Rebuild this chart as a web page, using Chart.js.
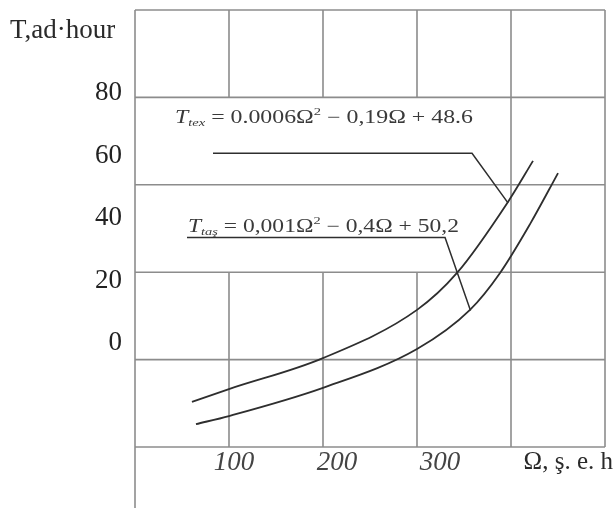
<!DOCTYPE html>
<html>
<head>
<meta charset="utf-8">
<script src="https://cdn.jsdelivr.net/npm/chart.js@4"></script>
<style>
  html, body { margin: 0; padding: 0; background: #fff; }
  #wrap { width: 614px; height: 508px; position: relative; }
</style>
</head>
<body>
<div id="wrap"><canvas id="c"></canvas></div>
<script>
// ---- data ----
const xTickValues = [100, 200, 300];
const yTickValues = [0, 20, 40, 60, 80];
const gridCols = [0, 1, 2, 3, 4, 5];
const gridRows = [0, 1, 2, 3, 4, 5];
const gridGapCols = [1, 2, 3];
const gridGapRows = [2, 4];

const omegaTex = [59.2, 95.1, 186.4, 277.7, 316.5, 366.0, 390.3];
const tTex     = [-18.7, -14.6, -4.7, 10.7, 22.5, 45.2, 58.3];

const omegaTas = [63.1, 95.1, 186.4, 277.7, 329.1, 358.3, 387.4, 414.6];
const tTas     = [-25.8, -23.2, -14.2, -1.8, 10.7, 22.5, 38.1, 54.4];

const leaderTexOmega = [79.6, 331.1, 366.0];
const leaderTexT     = [60.7, 60.7, 44.9];
const leaderTasOmega = [54.4, 304.9, 329.6];
const leaderTasT     = [33.8, 33.8, 10.5];

const formulaLabels = [
  [{t:'T', it:true}, {t:'tex', it:true, sub:true}, {t:' = 0.0006Ω'}, {t:'2', sup:true}, {t:' − 0,19Ω + 48.6'}],
  [{t:'T', it:true}, {t:'taş', it:true, sub:true}, {t:' = 0,001Ω'}, {t:'2', sup:true}, {t:' − 0,4Ω + 50,2'}]
];
const formulaOmega = [42.7, 55.3];
const formulaT     = [72.0, 37.2];
const formulaWidth = [298, 271];

const yTitle = 'T,ad·hour';
const xTitle = 'Ω, ş. e. h';

// ---- helpers ----
const pts = (xs, ys) => xs.map((x, i) => ({x: x, y: ys[i]}));
const SERIF = '"Liberation Serif", "DejaVu Serif", serif';

const gridPlugin = {
  id: 'gridPlugin',
  beforeDatasetsDraw(chart) {
    const ctx = chart.ctx, xg = chart.scales.xg, yg = chart.scales.yg;
    ctx.save();
    ctx.strokeStyle = '#8c8c8c';
    ctx.lineWidth = 1.6;
    gridRows.forEach(r => {
      const y = yg.getPixelForValue(r);
      ctx.beginPath();
      ctx.moveTo(xg.getPixelForValue(gridCols[0]), y);
      ctx.lineTo(xg.getPixelForValue(gridCols[gridCols.length - 1]), y);
      ctx.stroke();
    });
    gridCols.forEach(c => {
      const x = xg.getPixelForValue(c);
      const yTop = yg.getPixelForValue(gridRows[gridRows.length - 1]);
      const yBot = c === 0 ? chart.height : yg.getPixelForValue(gridRows[0]);
      ctx.beginPath();
      if (gridGapCols.includes(c)) {
        ctx.moveTo(x, yTop); ctx.lineTo(x, yg.getPixelForValue(gridGapRows[1]));
        ctx.moveTo(x, yg.getPixelForValue(gridGapRows[0])); ctx.lineTo(x, yBot);
      } else {
        ctx.moveTo(x, yTop); ctx.lineTo(x, yBot);
      }
      ctx.stroke();
    });
    ctx.restore();
  },
  afterDraw(chart) {
    const ctx = chart.ctx, xs = chart.scales.x, ys = chart.scales.y;
    const area = chart.chartArea;
    ctx.save();
    ctx.fillStyle = '#2a2a2a';
    ctx.textBaseline = 'middle';
    ctx.textAlign = 'left';
    ctx.font = '27px ' + SERIF;
    ctx.fillText(yTitle, 10, area.top + 21);
    ctx.font = '25px ' + SERIF;
    const w = ctx.measureText(xTitle).width;
    ctx.fillText(xTitle, area.right + 8 - w, area.bottom + 15);

    ctx.fillStyle = '#3a3a3a';
    formulaLabels.forEach((segs, i) => {
      const base = 18;
      const fontFor = s => (s.it ? 'italic ' : '') + (s.sub || s.sup ? Math.round(base * 0.62) : base) + 'px ' + SERIF;
      let total = 0;
      segs.forEach(s => { ctx.font = fontFor(s); total += ctx.measureText(s.t).width; });
      const sx = formulaWidth[i] / total;
      const x0 = xs.getPixelForValue(formulaOmega[i]);
      const y0 = ys.getPixelForValue(formulaT[i]);
      ctx.save();
      ctx.translate(x0, y0);
      ctx.scale(sx, 1);
      ctx.textBaseline = 'middle';
      let cx = 0;
      segs.forEach(s => {
        ctx.font = fontFor(s);
        const dy = s.sub ? 5 : (s.sup ? -6 : 0);
        ctx.fillText(s.t, cx, dy);
        cx += ctx.measureText(s.t).width;
      });
      ctx.restore();
    });
    ctx.restore();
  }
};

const lineStyle = {
  borderColor: '#2e2e2e',
  borderWidth: 1.8,
  pointRadius: 0,
  fill: false,
  xAxisID: 'x',
  yAxisID: 'y'
};

new Chart(document.getElementById('c'), {
  type: 'line',
  data: {
    datasets: [
      Object.assign({label: 'T tex', data: pts(omegaTex, tTex), cubicInterpolationMode: 'monotone'}, lineStyle),
      Object.assign({label: 'T taş', data: pts(omegaTas, tTas), cubicInterpolationMode: 'monotone'}, lineStyle),
      Object.assign({label: 'leader tex', data: pts(leaderTexOmega, leaderTexT), tension: 0}, lineStyle, {borderWidth: 1.5}),
      Object.assign({label: 'leader taş', data: pts(leaderTasOmega, leaderTasT), tension: 0}, lineStyle, {borderWidth: 1.5})
    ]
  },
  options: {
    responsive: true,
    maintainAspectRatio: false,
    animation: false,
    events: [],
    layout: { padding: { top: 10, right: 9, left: 0, bottom: 0 } },
    plugins: { legend: { display: false }, tooltip: { enabled: false } },
    scales: {
      x: {
        type: 'linear', position: 'bottom', min: 3.9, max: 460.2,
        grid: { display: false, drawTicks: false },
        border: { display: false },
        ticks: { color: '#444', padding: 0, font: { family: SERIF, size: 27, style: 'italic' }, maxRotation: 0 },
        afterBuildTicks: s => { s.ticks = xTickValues.map(v => ({value: v})); },
        afterFit: s => { s.height = 61; s.paddingLeft = 0; s.paddingRight = 0; }
      },
      y: {
        type: 'linear', position: 'left', min: -33.1, max: 106.5,
        grid: { display: false, drawTicks: false },
        border: { display: false },
        ticks: { color: '#222', padding: 13, font: { family: SERIF, size: 27 } },
        afterBuildTicks: s => { s.ticks = yTickValues.map(v => ({value: v})); },
        afterFit: s => { s.width = 135; s.paddingTop = 0; s.paddingBottom = 0; }
      },
      xg: { type: 'linear', display: false, min: 0, max: 5 },
      yg: { type: 'linear', display: false, min: 0, max: 5 }
    }
  },
  plugins: [gridPlugin]
});
</script>
</body>
</html>
